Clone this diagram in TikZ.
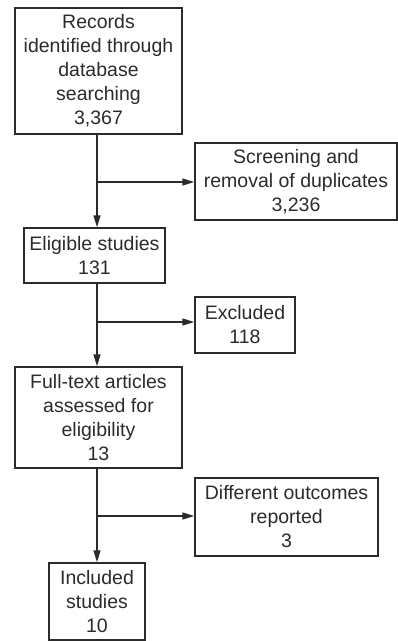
\documentclass[tikz,border=0pt]{standalone}
\usepackage{fontspec}
\setmainfont{Liberation Sans}
\usetikzlibrary{arrows.meta}
\definecolor{ink}{HTML}{2B2B2B}
\begin{document}
\begin{tikzpicture}[x=1pt,y=-1pt,
  box/.style={draw=ink,line width=1.5pt,inner sep=0pt,align=center,text=ink,
    font=\fontsize{19.5}{24}\selectfont},
  arr/.style={draw=ink,line width=1.5pt,-{Triangle[length=12pt,width=7pt]}},
  ln/.style={draw=ink,line width=1.5pt}]
\useasboundingbox (0,0) rectangle (398,641);
\node[box,minimum width=167pt,minimum height=126pt] (b1) at (98.5,71)
  {Records\\identified through\\database\\searching\\3,367};
\node[box,minimum width=202pt,minimum height=77pt] (b2) at (296,181.5)
  {Screening and\\removal of duplicates\\3,236};
\node[box,minimum width=141pt,minimum height=55pt] (b3) at (94.5,255.5)
  {Eligible studies\\131};
\node[box,minimum width=100pt,minimum height=56pt] (b4) at (245,325)
  {Excluded\\118};
\node[box,minimum width=167pt,minimum height=101pt] (b5) at (98.5,417.5)
  {Full-text articles\\assessed for\\eligibility\\13};
\node[box,minimum width=183pt,minimum height=78pt] (b6) at (286.5,517)
  {Different outcomes\\reported\\3};
\node[box,minimum width=96pt,minimum height=77pt] (b7) at (97,601.5)
  {Included\\studies\\10};
\coordinate (t1) at (97,134);
\coordinate (t2) at (97,283);
\coordinate (t3) at (97,468);
\coordinate (c1) at (97,182);
\coordinate (c2) at (97,322);
\coordinate (c3) at (97,516);
\draw[arr] (t1) -- (t1 |- b3.north);
\draw[arr] (c1) -- (c1 -| b2.west);
\draw[arr] (t2) -- (t2 |- b5.north);
\draw[arr] (c2) -- (c2 -| b4.west);
\draw[arr] (t3) -- (t3 |- b7.north);
\draw[arr] (c3) -- (c3 -| b6.west);
\end{tikzpicture}
\end{document}
